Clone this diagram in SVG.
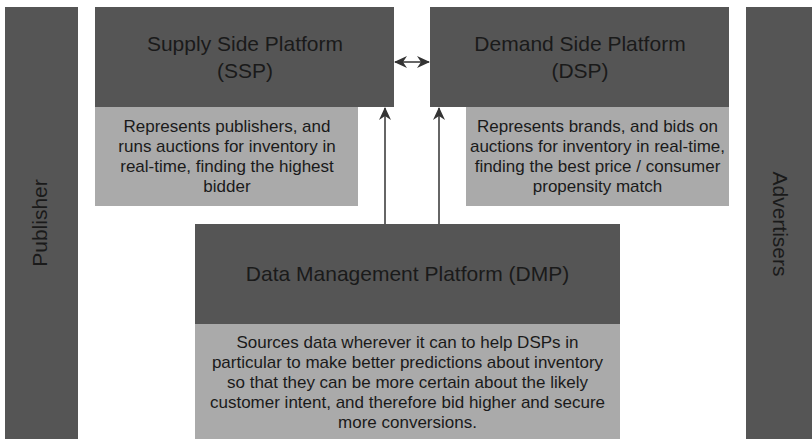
<svg xmlns="http://www.w3.org/2000/svg" width="812" height="439" viewBox="0 0 812 439">
  <style>
    .dark { fill: #555555; }
    .light { fill: #aaaaaa; }
    text { font-family: "Liberation Sans", Arial, sans-serif; fill: #1a1a1a; text-anchor: middle; }
    .title { font-size: 21px; }
    .desc { font-size: 17px; }
    .link { stroke: #333333; stroke-width: 1.5; fill: none; }
  </style>
  <defs>
    <marker id="head" viewBox="0 0 13 12" refX="12" refY="6" markerWidth="13" markerHeight="12" orient="auto-start-reverse" markerUnits="userSpaceOnUse">
      <path d="M0,0 L13,6 L0,12 L4,6 Z" fill="#333333"/>
    </marker>
  </defs>

  <rect width="812" height="439" fill="#ffffff"/>

  <g id="publisher">
    <rect class="dark" x="5" y="7" width="73" height="432"/>
    <text class="title" transform="translate(47,223) rotate(-90)">Publisher</text>
  </g>

  <g id="advertisers">
    <rect class="dark" x="746" y="7" width="66" height="432"/>
    <text class="title" transform="translate(773,224) rotate(90)">Advertisers</text>
  </g>

  <g id="ssp">
    <rect class="dark" x="95" y="7" width="299" height="100"/>
    <text class="title" x="245" y="51">Supply Side Platform</text>
    <text class="title" x="245" y="78">(SSP)</text>
    <rect class="light" x="95" y="107" width="263" height="99"/>
    <text class="desc" x="227" y="132">Represents publishers, and</text>
    <text class="desc" x="227" y="152">runs auctions for inventory in</text>
    <text class="desc" x="227" y="172">real-time, finding the highest</text>
    <text class="desc" x="227" y="192">bidder</text>
  </g>

  <g id="dsp">
    <rect class="dark" x="430" y="7" width="299" height="100"/>
    <text class="title" x="580" y="51">Demand Side Platform</text>
    <text class="title" x="580" y="78">(DSP)</text>
    <rect class="light" x="466" y="107" width="263" height="99"/>
    <text class="desc" x="597.5" y="132">Represents brands, and bids on</text>
    <text class="desc" x="597.5" y="152">auctions for inventory in real-time,</text>
    <text class="desc" x="597.5" y="172">finding the best price / consumer</text>
    <text class="desc" x="597.5" y="192">propensity match</text>
  </g>

  <g id="dmp">
    <rect class="dark" x="195" y="224" width="425" height="100"/>
    <text class="title" x="407.5" y="281">Data Management Platform (DMP)</text>
    <rect class="light" x="195" y="324" width="425" height="115"/>
    <text class="desc" x="407.5" y="348">Sources data wherever it can to help DSPs in</text>
    <text class="desc" x="407.5" y="368">particular to make better predictions about inventory</text>
    <text class="desc" x="407.5" y="388">so that they can be more certain about the likely</text>
    <text class="desc" x="407.5" y="408">customer intent, and therefore bid higher and secure</text>
    <text class="desc" x="407.5" y="428">more conversions.</text>
  </g>

  <g id="connectors">
    <line class="link" x1="395" y1="62" x2="429" y2="62" marker-start="url(#head)" marker-end="url(#head)"/>
    <line class="link" x1="385" y1="224" x2="385" y2="108" marker-end="url(#head)"/>
    <line class="link" x1="439" y1="224" x2="439" y2="108" marker-end="url(#head)"/>
  </g>
</svg>
